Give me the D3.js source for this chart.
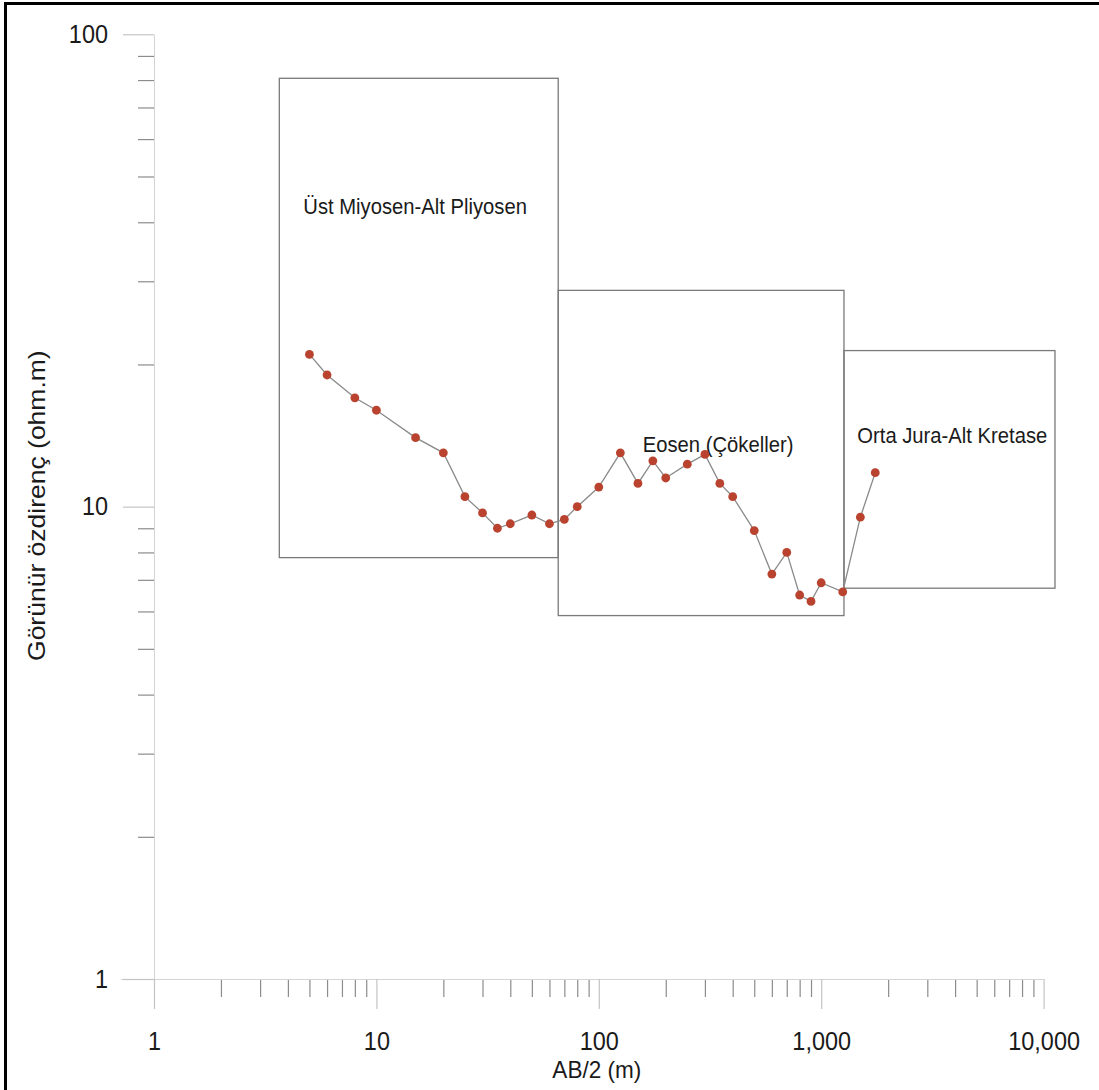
<!DOCTYPE html>
<html>
<head>
<meta charset="utf-8">
<script src="https://cdn.jsdelivr.net/npm/d3@7"></script>
<style>
  body { margin: 0; background: #fff; }
  text { font-family: "Liberation Sans", Arial, sans-serif; fill: #1a1a1a; }
</style>
</head>
<body>
<div id="chart"></div>
<script>
// sounding data: AB/2 (m) and apparent resistivity (ohm.m)
let abHalf = [5, 6, 8, 10, 15, 20, 25, 30, 35, 40, 50, 60, 70, 80, 100, 125, 150, 175, 200,
  250, 300, 350, 400, 500, 600, 700, 800, 900, 1000, 1250, 1500, 1750];
let rho = [21, 19, 17, 16, 14, 13, 10.5, 9.7, 9.0, 9.2, 9.6, 9.2, 9.4, 10, 11, 13, 11.2, 12.5, 11.5,
  12.3, 12.9, 11.2, 10.5, 8.9, 7.2, 8.0, 6.5, 6.3, 6.9, 6.6, 9.5, 11.8];

// geological units (boxes)
let unitNames = ['Üst Miyosen-Alt Pliyosen', 'Eosen (Çökeller)', 'Orta Jura-Alt Kretase'];
let unitFrom = [3.66, 65.7, 1266];
let unitTo = [65.7, 1266, 11250];
let unitLow = [7.8, 5.88, 6.72];
let unitHigh = [80.7, 28.7, 21.4];
let unitLabelX = [4.69, 157.6, 1453];
let unitLabelY = [41.7, 13.08, 13.62];

// tick labels
let xTickValues = [1, 10, 100, 1000, 10000];
let xTickLabels = ['1', '10', '100', '1,000', '10,000'];
let yTickValues = [1, 10, 100];
let yTickLabels = ['1', '10', '100'];

let width = 1099,
  height = 1090;

let squeeze = 0.92; // the original artwork is a bit narrow horizontally

let svg = d3.select('#chart')
  .append('svg')
  .attr('width', width)
  .attr('height', height)
  .style('display', 'block')
  .style('background', '#fff');

// scales
let xScale = d3.scaleLog()
  .domain([1, 10000])
  .range([154, 1043.6]);

let yScale = d3.scaleLog()
  .domain([1, 100])
  .range([979, 34.3]);

// minor ticks 2..9 for every decade
let minorX = [];
for (let p = 1; p < 10000; p *= 10) for (let k = 2; k < 10; k++) minorX.push(k * p);
let minorY = [];
for (let p = 1; p < 100; p *= 10) for (let k = 2; k < 10; k++) minorY.push(k * p);

// x axis
let xMinor = svg.append('g')
  .attr('transform', 'translate(0,979)')
  .call(d3.axisBottom(xScale).tickValues(minorX).tickSize(18).tickSizeOuter(0).tickFormat(''));
xMinor.select('.domain').remove();
xMinor.selectAll('line').attr('stroke', '#8c8c8c').attr('stroke-width', 1.2);

let xAxis = svg.append('g')
  .attr('transform', 'translate(0,979)')
  .call(d3.axisBottom(xScale)
    .tickValues(xTickValues)
    .tickSize(30)
    .tickSizeOuter(0)
    .tickPadding(23)
    .tickFormat((d, i) => xTickLabels[i]));
xAxis.select('.domain').attr('stroke', '#d4d4d4').attr('d', `M${121},0.5H${xScale(10000)}`);
xAxis.selectAll('line').attr('stroke', '#c4c4c4').attr('stroke-width', 1.2);
xAxis.selectAll('text')
  .style('font-size', '25.5px')
  .style('fill', '#1a1a1a')
  .attr('transform', `scale(${squeeze},1)`);

// y axis
let yMinor = svg.append('g')
  .attr('transform', 'translate(154,0)')
  .call(d3.axisLeft(yScale).tickValues(minorY).tickSize(16).tickSizeOuter(0).tickFormat(''));
yMinor.select('.domain').remove();
yMinor.selectAll('line').attr('stroke', '#8c8c8c').attr('stroke-width', 1.2);

let yAxis = svg.append('g')
  .attr('transform', 'translate(154,0)')
  .call(d3.axisLeft(yScale)
    .tickValues(yTickValues)
    .tickSize(31)
    .tickSizeOuter(0)
    .tickPadding(19)
    .tickFormat((d, i) => yTickLabels[i]));
yAxis.select('.domain').attr('stroke', '#d4d4d4');
yAxis.selectAll('line').attr('stroke', '#c4c4c4').attr('stroke-width', 1.2);
yAxis.selectAll('text')
  .style('font-size', '25.5px')
  .style('fill', '#1a1a1a')
  .attr('transform', `scale(${squeeze},1)`);

// axis titles
svg.append('text')
  .attr('transform', `translate(${xScale(100) - 2},1078) scale(${squeeze},1)`)
  .style('text-anchor', 'middle')
  .style('font-size', '24.5px')
  .text('AB/2 (m)');

svg.append('text')
  .attr('transform', `translate(45,${yScale(10) - 1}) rotate(-90) scale(1,${squeeze})`)
  .style('text-anchor', 'middle')
  .style('font-size', '26.5px')
  .text('Görünür özdirenç (ohm.m)');

// unit boxes
svg.selectAll('rect.unit')
  .data(unitNames)
  .enter()
  .append('rect')
  .attr('class', 'unit')
  .attr('x', (d, i) => xScale(unitFrom[i]))
  .attr('y', (d, i) => yScale(unitHigh[i]))
  .attr('width', (d, i) => xScale(unitTo[i]) - xScale(unitFrom[i]))
  .attr('height', (d, i) => yScale(unitLow[i]) - yScale(unitHigh[i]))
  .attr('fill', 'none')
  .attr('stroke', '#7a7a7a')
  .attr('stroke-width', 1.3);

svg.selectAll('text.unit')
  .data(unitNames)
  .enter()
  .append('text')
  .attr('class', 'unit')
  .attr('transform', (d, i) => `translate(${xScale(unitLabelX[i])},${yScale(unitLabelY[i])}) scale(${squeeze},1)`)
  .style('font-size', '22px')
  .text(d => d);

// sounding curve
let points = abHalf.map((a, i) => [a, rho[i]]);

svg.append('path')
  .datum(points)
  .attr('d', d3.line().x(d => xScale(d[0])).y(d => yScale(d[1])))
  .attr('fill', 'none')
  .attr('stroke', '#8a8a8a')
  .attr('stroke-width', 1.3);

svg.selectAll('circle')
  .data(points)
  .enter()
  .append('circle')
  .attr('cx', d => xScale(d[0]))
  .attr('cy', d => yScale(d[1]))
  .attr('r', 4.4)
  .attr('fill', '#b9432f');

// frame of the original figure (cut at right and bottom)
svg.append('rect')
  .attr('x', 5.5)
  .attr('y', 3.5)
  .attr('width', 1300)
  .attr('height', 1300)
  .attr('fill', 'none')
  .attr('stroke', '#000')
  .attr('stroke-width', 3);
</script>
</body>
</html>
